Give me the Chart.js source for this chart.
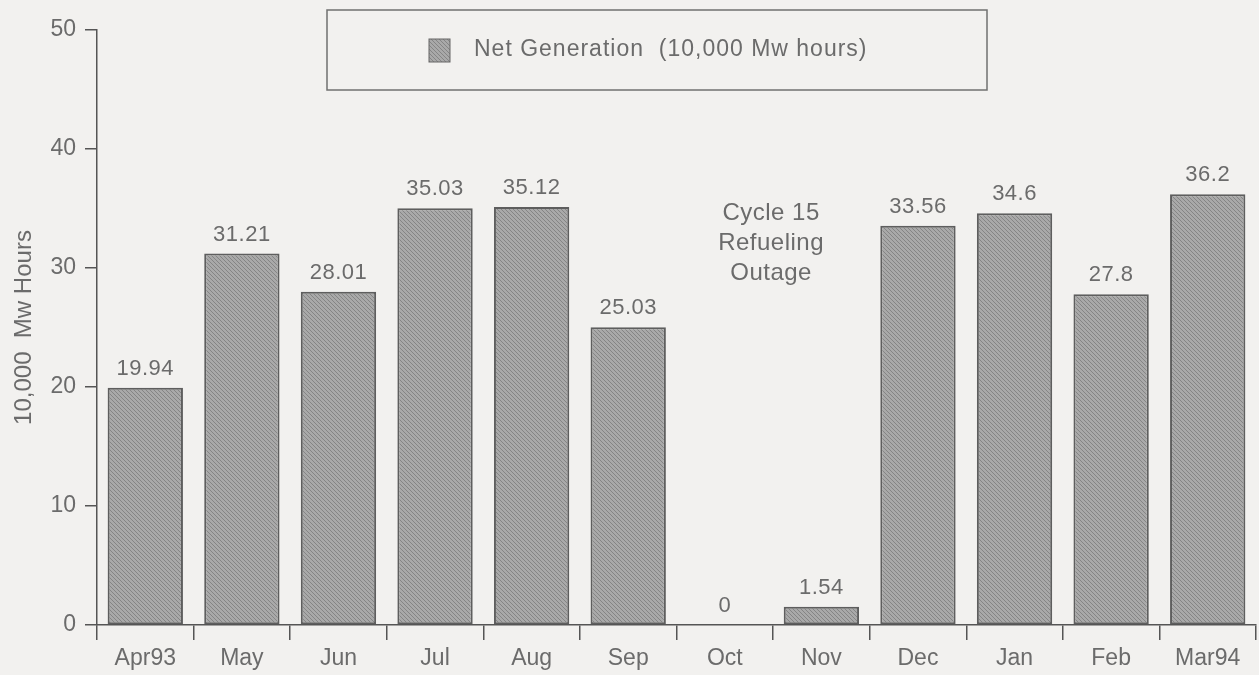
<!DOCTYPE html>
<html>
<head>
<meta charset="utf-8">
<script src="https://cdn.jsdelivr.net/npm/chart.js@4"></script>
<style>
  html, body { margin: 0; padding: 0; background: #f2f1ef; }
  #wrap { width: 1259px; height: 675px; }
</style>
</head>
<body>
<div id="wrap"><canvas id="genChart" width="1259" height="675"></canvas></div>
<script>
// data
const months = ["Apr93", "May", "Jun", "Jul", "Aug", "Sep", "Oct", "Nov", "Dec", "Jan", "Feb", "Mar94"];
const netGen = [19.94, 31.21, 28.01, 35.03, 35.12, 25.03, 0, 1.54, 33.56, 34.6, 27.8, 36.2];
const valueLabels = ["19.94", "31.21", "28.01", "35.03", "35.12", "25.03", "0", "1.54", "33.56", "34.6", "27.8", "36.2"];
const yTicks = [0, 10, 20, 30, 40, 50];
const outageNote = ["Cycle 15", "Refueling", "Outage"];

const textColor = "#6b6b6b";
const axisColor = "#555";
const fontFam = "'Liberation Sans', Arial, sans-serif";

// hatched grey fill like the printed bars
function makeHatch() {
    const c = document.createElement("canvas");
    c.width = 4; c.height = 4;
    const g = c.getContext("2d");
    g.fillStyle = "#a9a9a9";
    g.fillRect(0, 0, 4, 4);
    g.strokeStyle = "#858585";
    g.lineWidth = 1;
    g.beginPath();
    g.moveTo(0, 0); g.lineTo(4, 4);
    g.moveTo(-1, 3); g.lineTo(1, 5);
    g.moveTo(3, -1); g.lineTo(5, 1);
    g.stroke();
    return g.createPattern(c, "repeat");
}
const hatch = makeHatch();

// values above bars + outage note
const barLabels = {
    id: "barLabels",
    afterDatasetsDraw(chart) {
        const ctx = chart.ctx;
        const meta = chart.getDatasetMeta(0);
        ctx.save();
        ctx.fillStyle = textColor;
        ctx.font = "22px " + fontFam;
        ctx.letterSpacing = "0.5px";
        ctx.textAlign = "center";
        ctx.textBaseline = "bottom";
        meta.data.forEach((bar, i) => {
            ctx.fillText(valueLabels[i], bar.x, bar.y - 8);
        });
        // note sits between Oct and Nov
        const xs = chart.scales.x;
        const ys = chart.scales.y;
        const cx = (xs.getPixelForValue(6) + xs.getPixelForValue(7)) / 2;
        const top = ys.getPixelForValue(34.6);
        ctx.font = "24px " + fontFam;
        ctx.textBaseline = "middle";
        outageNote.forEach((line, k) => {
            ctx.fillText(line, cx - 2, top + k * 30);
        });
        ctx.restore();
    }
};

// boxed legend at the top
const boxLegend = {
    id: "boxLegend",
    afterDraw(chart) {
        const ctx = chart.ctx;
        ctx.save();
        ctx.strokeStyle = "#707070";
        ctx.lineWidth = 1.5;
        ctx.fillStyle = "#f2f1ef";
        ctx.fillRect(327, 10, 660, 80);
        ctx.strokeRect(327, 10, 660, 80);
        ctx.fillStyle = hatch;
        ctx.fillRect(429, 39, 21, 23);
        ctx.strokeStyle = "#666";
        ctx.lineWidth = 1;
        ctx.strokeRect(429, 39, 21, 23);
        ctx.fillStyle = textColor;
        ctx.font = "23px " + fontFam;
        ctx.letterSpacing = "1px";
        ctx.textAlign = "left";
        ctx.textBaseline = "middle";
        ctx.fillText(chart.data.datasets[0].label, 474, 50);
        ctx.restore();
    }
};

new Chart(document.getElementById("genChart"), {
    type: "bar",
    data: {
        labels: months,
        datasets: [{
            label: "Net Generation  (10,000 Mw hours)",
            data: netGen,
            backgroundColor: hatch,
            borderColor: "#5e5e5e",
            borderWidth: 2,
            borderSkipped: false,
            categoryPercentage: 0.78,
            barPercentage: 1.0,
        }],
    },
    options: {
        responsive: false,
        animation: false,
        layout: { padding: { top: 30, right: 3, left: 0, bottom: 0 } },
        plugins: {
            legend: { display: false },
            tooltip: { enabled: false },
        },
        scales: {
            x: {
                grid: {
                    offset: true,
                    drawOnChartArea: false,
                    drawTicks: true,
                    tickLength: 15,
                    color: axisColor,
                    lineWidth: 1.5,
                },
                border: { display: true, color: axisColor, width: 1.5 },
                ticks: {
                    color: textColor,
                    padding: 5,
                    maxRotation: 0,
                    font: { size: 23, family: fontFam },
                },
                afterFit(scale) { scale.height = 50; },
            },
            y: {
                min: 0,
                max: 50,
                afterBuildTicks(scale) { scale.ticks = yTicks.map(v => ({ value: v })); },
                grid: {
                    drawOnChartArea: false,
                    drawTicks: true,
                    tickLength: 12,
                    color: axisColor,
                    lineWidth: 1.5,
                },
                border: { display: true, color: axisColor, width: 1.5 },
                ticks: {
                    color: textColor,
                    padding: 9,
                    font: { size: 23, family: fontFam },
                },
                title: {
                    display: true,
                    text: "10,000  Mw Hours",
                    color: textColor,
                    font: { size: 24, family: fontFam },
                    padding: { top: 10, bottom: 0 },
                },
                afterFit(scale) { scale.width = 97; },
            },
        },
    },
    plugins: [barLabels, boxLegend],
});
</script>
</body>
</html>
